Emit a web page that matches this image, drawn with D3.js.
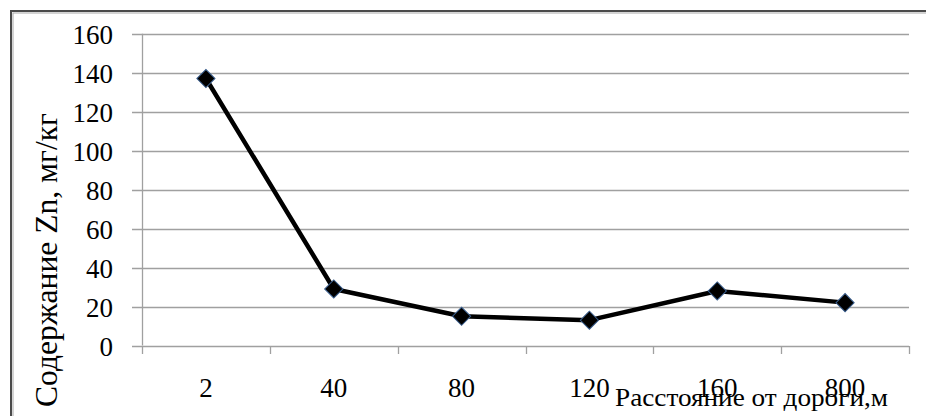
<!DOCTYPE html>
<html>
<head>
<meta charset="utf-8">
<script src="https://cdn.jsdelivr.net/npm/d3@7"></script>
<style>
  html, body { margin: 0; padding: 0; background: #fff; }
  svg { display: block; }
</style>
</head>
<body>
<svg id="chart" width="926" height="416"></svg>
<script>
// Zinc content in soil by distance from the road
const categories = ["2", "40", "80", "120", "160", "800"];
const zincValues = [137, 29, 15, 13, 28, 22];
const yTicks = [0, 20, 40, 60, 80, 100, 120, 140, 160];
const yTitle = "Содержание Zn, мг/кг";
const xTitle = "Расстояние от дороги,м";

const FONT = "'Liberation Serif', 'Times New Roman', Tinos, 'DejaVu Serif', serif";

const svg = d3.select("#chart").attr("font-family", FONT);
const W = 926, H = 416;
const plot = { left: 142, right: 909, top: 33.7, bottom: 345.5 };

// outer frame (runs off the right and bottom edges)
svg.append("rect")
  .attr("x", 11).attr("y", 11)
  .attr("width", W + 20).attr("height", H + 20)
  .attr("fill", "none").attr("stroke", "#4a4a4a").attr("stroke-width", 2);
svg.append("rect")
  .attr("x", 13).attr("y", 13)
  .attr("width", W + 20).attr("height", H + 20)
  .attr("fill", "none").attr("stroke", "#a8a8a8").attr("stroke-width", 1);

const x = d3.scaleBand().domain(categories).range([plot.left, plot.right]);
const y = d3.scaleLinear().domain([0, 160]).range([plot.bottom, plot.top]);

// horizontal gridlines with short outward ticks
svg.append("g").selectAll("line").data(yTicks).join("line")
  .attr("x1", plot.left - 10).attr("x2", plot.right)
  .attr("y1", d => Math.round(y(d)) + 0.5).attr("y2", d => Math.round(y(d)) + 0.5)
  .attr("stroke", "#a0a0a0").attr("stroke-width", 1.3);

// y axis line
svg.append("line")
  .attr("x1", plot.left + 0.5).attr("x2", plot.left + 0.5)
  .attr("y1", plot.top).attr("y2", plot.bottom)
  .attr("stroke", "#a0a0a0").attr("stroke-width", 1.3);

// x axis category boundary ticks
const bounds = categories.map(c => x(c)).concat([plot.right]);
svg.append("g").selectAll("line").data(bounds).join("line")
  .attr("x1", d => Math.round(d) + 0.5).attr("x2", d => Math.round(d) + 0.5)
  .attr("y1", Math.round(y(0))).attr("y2", Math.round(y(0)) + 8)
  .attr("stroke", "#a0a0a0").attr("stroke-width", 1.3);

// y tick labels
svg.append("g").selectAll("text").data(yTicks).join("text")
  .attr("x", 113).attr("y", d => y(d) + 10)
  .attr("text-anchor", "end")
  .attr("font-family", FONT)
  .attr("font-size", 27)
  .text(d => d);

// x tick labels
svg.append("g").selectAll("text").data(categories).join("text")
  .attr("x", d => x(d) + x.bandwidth() / 2).attr("y", 397)
  .attr("text-anchor", "middle")
  .attr("font-family", FONT)
  .attr("font-size", 27)
  .text(d => d);

// axis titles
svg.append("text")
  .attr("transform", "translate(57,260) rotate(-90)")
  .attr("text-anchor", "middle")
  .attr("font-family", FONT)
  .attr("font-size", 31)
  .attr("textLength", 294).attr("lengthAdjust", "spacingAndGlyphs")
  .text(yTitle);

svg.append("text")
  .attr("x", 615).attr("y", 406)
  .attr("font-family", FONT)
  .attr("font-size", 26)
  .attr("textLength", 273).attr("lengthAdjust", "spacingAndGlyphs")
  .text(xTitle);

// data line
const pts = categories.map((c, i) => [x(c) + x.bandwidth() / 2, y(zincValues[i])]);
svg.append("path")
  .attr("d", d3.line()(pts))
  .attr("fill", "none").attr("stroke", "#000")
  .attr("stroke-width", 4.5).attr("stroke-linejoin", "round");

// diamond markers
const diamond = d3.symbol().type(d3.symbolSquare).size(165);
svg.append("g").selectAll("path").data(pts).join("path")
  .attr("transform", d => `translate(${d[0]},${d[1]}) rotate(45)`)
  .attr("d", diamond)
  .attr("fill", "#000").attr("stroke", "#3a5f8f").attr("stroke-width", 1);
</script>
</body>
</html>
